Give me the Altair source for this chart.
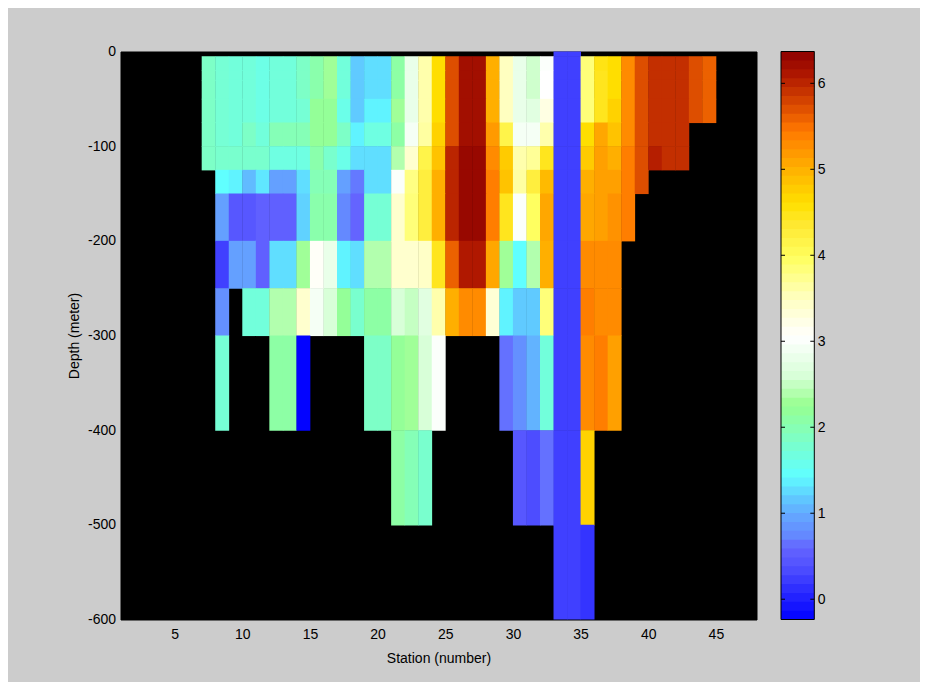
import altair as alt
import pandas as pd

N = None

# ---- data -------------------------------------------------------------
stations = list(range(7, 45))          # cell starts at station s, ends at s+1
depth_top = [0, -5, -20, -30, -50, -75, -100, -125, -150, -200, -250, -300, -400, -500]
depth_bottom = [-5, -20, -30, -50, -75, -100, -125, -150, -200, -250, -300, -400, -500, -600]

# station:   7     8     9     10    11    12    13    14    15    16    17    18    19    20
#            21    22    23    24    25    26    27    28    29    30    31    32
#            33    34    35    36    37    38    39    40    41    42    43    44
row_0_5 = [N, N, N, N, N, N, N, N, N, N, N, N, N, N,
           N, N, N, N, N, N, N, N, N, N, N, N,
           0.25, 0.25, N, N, N, N, N, N, N, N, N, N]
row_5_20 = [1.85, 1.75, 1.7, 1.7, 1.62, 1.7, 1.7, 1.85, 2.05, 2.3, 1.7, 1.18, 1.28, 1.28,
            2.1, 2.8, 3.6, 4.62, 5.72, 6.2, 6.2, 5.02, 3.5, 2.8, 2.55, 3.0,
            0.25, 0.25, 3.85, 4.5, 4.62, 5.3, 5.72, 5.93, 5.93, 5.93, 5.72, 5.6]
row_20_30 = [1.85, 1.75, 1.7, 1.7, 1.62, 1.7, 1.7, 1.85, 2.05, 2.3, 1.7, 1.18, 1.28, 1.28,
             2.1, 2.8, 3.6, 4.62, 5.72, 6.2, 6.2, 5.02, 3.5, 2.8, 2.55, 3.05,
             0.25, 0.25, 3.85, 4.45, 4.62, 5.3, 5.72, 5.93, 5.93, 5.93, 5.72, 5.6]
row_30_50 = [1.85, 1.75, 1.7, 1.7, 1.62, 1.7, 1.7, 1.85, 2.05, 2.3, 1.7, 1.18, 1.28, 1.28,
             2.1, 2.8, 3.6, 4.62, 5.72, 6.2, 6.2, 5.02, 3.5, 2.8, 2.55, 3.05,
             0.25, 0.25, 3.85, 4.45, 4.62, 5.3, 5.72, 5.93, 5.93, 5.93, 5.72, 5.6]
row_50_75 = [1.85, 1.75, 1.7, 1.7, 1.62, 1.7, 1.7, 1.75, 2.2, 2.2, 1.6, 1.18, 1.38, 1.38,
             2.3, 2.8, 3.6, 4.62, 5.72, 6.2, 6.2, 5.02, 3.5, 2.8, 2.7, 3.25,
             0.25, 0.25, 3.85, 4.45, 4.72, 5.3, 5.72, 5.93, 5.93, 5.93, 5.72, 5.6]
row_75_100 = [1.85, 1.75, 1.7, 1.85, 1.7, 1.97, 1.97, 1.97, 2.2, 2.2, 1.85, 1.38, 1.65, 1.65,
              2.1, 2.93, 3.65, 4.72, 5.72, 6.2, 6.2, 5.18, 4.15, 2.93, 2.93, 3.6,
              0.25, 0.25, 4.62, 5.08, 4.85, 5.3, 5.72, 5.93, 5.93, 5.93, N, N]
row_100_125 = [1.85, 1.8, 1.8, 1.8, 1.8, 1.65, 1.65, 1.65, 2.05, 1.8, 1.6, 1.28, 1.28, 1.28,
               2.4, 3.4, 4.15, 4.85, 6.0, 6.28, 6.28, 5.3, 4.78, 3.6, 3.7, 4.45,
               0.25, 0.25, 4.78, 5.14, 5.02, 5.4, 5.72, 6.05, 5.93, 5.93, N, N]
row_125_150 = [N, 1.44, 1.38, 1.1, 1.32, 0.92, 0.92, 1.28, 1.97, 1.97, 0.92, 0.68, 1.28, 1.28,
               3.0, 3.8, 4.25, 5.02, 6.0, 6.28, 6.28, 5.4, 4.85, 3.65, 4.25, 4.93,
               0.25, 0.25, 5.02, 5.14, 5.14, 5.4, 5.72, N, N, N, N, N]
row_150_200 = [N, 0.92, 0.45, 0.45, 0.55, 0.55, 0.55, 1.22, 2.05, 2.05, 0.75, 0.6, 1.75, 1.75,
               3.4, 3.85, 4.25, 5.02, 6.0, 6.28, 6.28, 5.4, 4.45, 3.0, 3.97, 5.08,
               0.25, 0.25, 5.08, 5.14, 5.25, 5.4, N, N, N, N, N, N]
row_200_250 = [N, 0.25, 0.92, 0.92, 0.55, 1.28, 1.28, 2.3, 3.1, 2.8, 1.38, 1.28, 2.4, 2.4,
               3.4, 3.4, 3.45, 4.45, 5.6, 6.09, 6.09, 5.08, 2.3, 1.44, 2.4, 5.02,
               0.25, 0.25, 5.3, 5.3, 5.3, N, N, N, N, N, N, N]
row_250_300 = [N, 0.8, N, 1.7, 1.7, 2.4, 2.4, 3.4, 2.93, 2.6, 2.2, 1.8, 2.1, 2.1,
               2.6, 2.5, 2.7, 3.6, 5.02, 5.3, 5.3, 3.35, 1.38, 1.18, 1.18, 3.85,
               0.25, 0.25, 5.4, 5.3, 5.3, N, N, N, N, N, N, N]
row_300_400 = [N, 1.75, N, N, N, 2.1, 2.1, -0.22, N, N, N, N, 1.85, 1.85,
               2.2, 2.3, 2.6, 3.0, N, N, N, N, 0.65, 0.8, 1.05, 1.7,
               0.25, 0.25, 5.3, 5.4, 5.14, N, N, N, N, N, N, N]
row_400_500 = [N, N, N, N, N, N, N, N, N, N, N, N, N, N,
               2.1, 1.97, 1.8, N, N, N, N, N, N, 0.45, 0.35, 0.65,
               0.25, 0.25, 4.72, N, N, N, N, N, N, N, N, N]
row_500_600 = [N, N, N, N, N, N, N, N, N, N, N, N, N, N,
               N, N, N, N, N, N, N, N, N, N, N, N,
               0.25, 0.25, 0.16, N, N, N, N, N, N, N, N, N]

rows = [row_0_5, row_5_20, row_20_30, row_30_50, row_50_75, row_75_100, row_100_125,
        row_125_150, row_150_200, row_200_250, row_250_300, row_300_400, row_400_500,
        row_500_600]

x_ticks = [5, 10, 15, 20, 25, 30, 35, 40, 45]
y_ticks = [-600, -500, -400, -300, -200, -100, 0]
cb_ticks = [0, 1, 2, 3, 4, 5, 6]

# colormap (value -> colour)
cmap_stops = [-0.24, 0.13, 0.37, 0.6, 0.74, 0.98, 1.13, 1.44, 1.9, 2.26, 2.6, 3.05,
              3.5, 3.97, 4.36, 4.6, 4.98, 5.45, 5.76, 6.09, 6.37]
cmap_colors = ["#0000ff", "#3030ff", "#5050ff", "#6464ff", "#6488ff", "#64a8ff",
               "#60c0ff", "#60ffff", "#80ffc0", "#98ff90", "#d8ffd8", "#ffffff",
               "#ffffc0", "#ffff60", "#ffe830", "#ffe000", "#ffb400", "#ff7800",
               "#d84800", "#b01800", "#8c0000"]
cmin, cmax = -0.236, 6.37
n_levels = 64

records = []
for top, bottom, vals in zip(depth_top, depth_bottom, rows):
    for s, v in zip(stations, vals):
        if v is not None:
            records.append({"station": s, "top": top, "bottom": bottom, "value": v})
df = pd.DataFrame(records)

# ---- layout -----------------------------------------------------------
FONT = "Liberation Sans"
W, H = 636, 568
CB_X0, CB_X1 = 660.5, 693.8
step = (cmax - cmin) / n_levels

color_scale = alt.Scale(domain=cmap_stops, range=cmap_colors, interpolate="rgb", clamp=True)
cb_y_scale = alt.Scale(domain=[cmin, cmax], nice=False, zero=False)

# cells overlap their neighbours by a hair so no anti-aliasing seams show
cells = alt.Chart(df).transform_calculate(
    station_end="datum.station + 1.03",
    bottom_ov="datum.bottom - 0.6",
).mark_rect().encode(
    x=alt.X("station:Q", scale=alt.Scale(domain=[1, 48], nice=False, zero=False),
            axis=alt.Axis(values=x_ticks, title="Station (number)", domain=False, ticks=False,
                          grid=False, labelPadding=8, labelFontSize=14, labelColor="black",
                          titleFontSize=14, titleColor="black", titleFontWeight="normal",
                          titleY=39, titleBaseline="middle")),
    x2="station_end:Q",
    y=alt.Y("top:Q", scale=alt.Scale(domain=[-600, 0], nice=False, zero=False, clamp=True),
            axis=alt.Axis(values=y_ticks, title="Depth (meter)", domain=False, ticks=False,
                          grid=False, labelPadding=5, labelFontSize=14, labelColor="black",
                          labelExpr="'' + datum.value",
                          titleFontSize=14, titleColor="black", titleFontWeight="normal",
                          titleX=-46, titleY=H / 2, titleAngle=270, titleAlign="center",
                          titleBaseline="middle")),
    y2="bottom_ov:Q",
    color=alt.Color("value:Q", scale=color_scale, legend=None),
)

cbar = alt.Chart(alt.sequence(0, n_levels, as_="i")).transform_calculate(
    lo=f"{cmin} + datum.i * {step}",
    hi=f"min({cmax}, {cmin} + (datum.i + 1.08) * {step})",
    mid=f"{cmin} + (datum.i + 0.5) * {step}",
).mark_rect().encode(
    x=alt.value(CB_X0), x2=alt.value(CB_X1),
    y=alt.Y("lo:Q", scale=cb_y_scale,
            axis=alt.Axis(orient="right", offset=CB_X1 - W, values=cb_ticks, ticks=False,
                          domain=False, grid=False, labelPadding=3, labelFontSize=14,
                          labelColor="black", labelExpr="'' + datum.value", title=None)),
    y2="hi:Q",
    color=alt.Color("mid:Q", scale=color_scale, legend=None),
)

tick_df = pd.DataFrame({"v": cb_ticks})
tick_left = alt.Chart(tick_df).mark_rule(color="black", strokeWidth=1).encode(
    x=alt.value(CB_X0), x2=alt.value(CB_X0 + 4),
    y=alt.Y("v:Q", scale=cb_y_scale, axis=None),
)
tick_right = alt.Chart(tick_df).mark_rule(color="black", strokeWidth=1).encode(
    x=alt.value(CB_X1 - 4), x2=alt.value(CB_X1),
    y=alt.Y("v:Q", scale=cb_y_scale, axis=None),
)
border = alt.Chart(pd.DataFrame({"k": [0]})).mark_rect(
    fillOpacity=0, stroke="black", strokeWidth=1
).encode(
    x=alt.value(CB_X0), x2=alt.value(CB_X1), y=alt.value(0), y2=alt.value(H),
)

chart = alt.layer(cells, cbar, tick_left, tick_right, border).resolve_scale(
    y="independent"
).properties(
    width=W, height=H,
    padding={"left": 112.5, "top": 43.5, "right": 163.5, "bottom": 62.5},
    autosize=alt.AutoSizeParams(type="none"),
).configure(
    background="#cccccc", font=FONT
).configure_view(
    fill="black", stroke="black"
)

chart.save("out.html", embed_options={"renderer": "svg", "actions": False})
